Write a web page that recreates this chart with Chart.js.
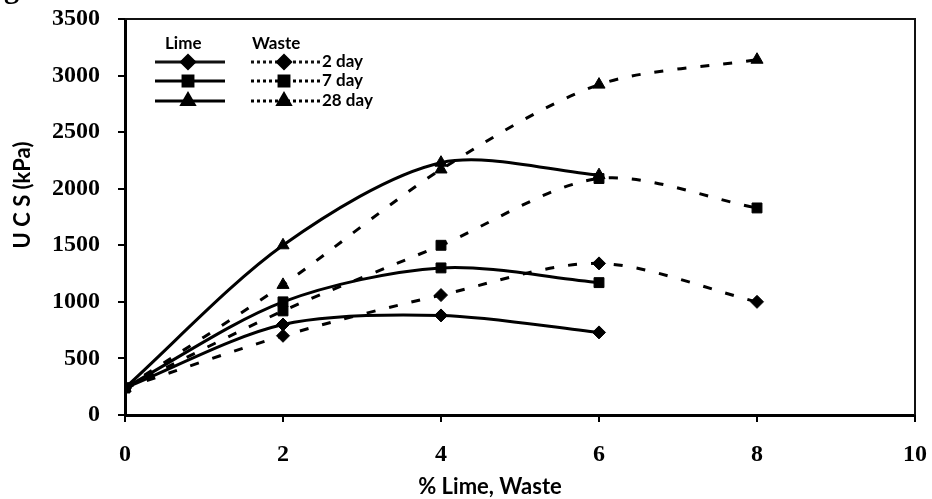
<!DOCTYPE html>
<html>
<head>
<meta charset="utf-8">
<script src="https://cdn.jsdelivr.net/npm/chart.js@4"></script>
<style>
  html, body { margin: 0; padding: 0; background: #fff; }
  #wrap { width: 932px; height: 499px; }
</style>
</head>
<body>
<div id="wrap"><canvas id="ucsChart"></canvas></div>
<script>
// DATA

const limeDose = [0, 2, 4, 6];
const wasteDose = [0, 2, 4, 6, 8];

const lime2Day = [240, 800, 880, 730];
const lime7Day = [240, 1000, 1300, 1170];
const lime28Day = [240, 1500, 2230, 2120];

const waste2Day = [240, 700, 1060, 1340, 1000];
const waste7Day = [240, 920, 1500, 2090, 1830];
const waste28Day = [240, 1150, 2170, 2920, 3140];

const xTicks = [0, 2, 4, 6, 8, 10];
const yTicks = [0, 500, 1000, 1500, 2000, 2500, 3000, 3500];

const ageLabels = ["2 day", "7 day", "28 day"];
const markerStyles = ["rectRot", "rect", "triangle"];
const markerSizes = [6.5, 7, 7];


// HELPERS

function toPoints(xs, ys) {
  return xs.map((x, i) => ({ x: x, y: ys[i] }));
}

function makeSet(label, xs, ys, idx, dashed) {
  return {
    label: label,
    data: toPoints(xs, ys),
    borderColor: "#000",
    backgroundColor: "#000",
    borderWidth: 3,
    borderDash: dashed ? [9, 14] : [],
    tension: 0.3,
    pointStyle: markerStyles[idx],
    pointRadius: markerSizes[idx],
    pointBackgroundColor: "#000",
    pointBorderColor: "#000",
    pointBorderWidth: 1,
    fill: false
  };
}

// keep the plot box where the layout puts it (no label overhang padding)
function fixScale(scale, key, size) {
  scale[key] = size;
  scale.paddingTop = 0;
  scale.paddingBottom = 0;
  scale.paddingLeft = 0;
  scale.paddingRight = 0;
}


// LEGEND + FRAME + AXIS TITLES

const decorPlugin = {
  id: "decor",
  afterDraw(chart) {
    const ctx = chart.ctx;
    const area = chart.chartArea;

    ctx.save();

    // top and right frame
    ctx.strokeStyle = "#111";
    ctx.lineWidth = 2;
    ctx.beginPath();
    ctx.moveTo(area.left, area.top);
    ctx.lineTo(area.right, area.top);
    ctx.lineTo(area.right, area.bottom);
    ctx.stroke();

    // cut-off caption letter at the very top
    ctx.fillStyle = "#000";
    ctx.font = "bold 30px 'Liberation Serif'";
    ctx.textAlign = "left";
    ctx.textBaseline = "alphabetic";
    ctx.fillText("g", 4, -2);

    // axis titles
    ctx.font = "bold 22px Lato";
    ctx.textAlign = "center";
    ctx.textBaseline = "middle";
    ctx.fillText("% Lime, Waste", 490, 487);

    ctx.save();
    ctx.translate(23, 195);
    ctx.rotate(-Math.PI / 2);
    ctx.fillText("U C S (kPa)", 0, 0);
    ctx.restore();

    // legend
    ctx.font = "bold 17px Lato";
    ctx.textAlign = "left";
    ctx.fillText("Lime", 165, 44);
    ctx.fillText("Waste", 252, 44);

    const rowY = [62, 81, 101];

    rowY.forEach((y, i) => {

      ctx.lineWidth = 3;
      ctx.setLineDash([]);
      ctx.beginPath();
      ctx.moveTo(155, y);
      ctx.lineTo(225, y);
      ctx.stroke();

      ctx.setLineDash([3, 3]);
      ctx.beginPath();
      ctx.moveTo(251, y);
      ctx.lineTo(320, y);
      ctx.stroke();
      ctx.setLineDash([]);

      const opts = {
        pointStyle: markerStyles[i],
        radius: markerSizes[i],
        rotation: 0,
        borderWidth: 1
      };
      ctx.fillStyle = "#000";
      ctx.strokeStyle = "#000";
      Chart.helpers.drawPoint(ctx, opts, 188, y);
      Chart.helpers.drawPoint(ctx, opts, 284, y);

      ctx.fillText(ageLabels[i], 322, y);
    });

    ctx.restore();
  }
};


// CHART

const datasets = [
  makeSet("Lime 2 day", limeDose, lime2Day, 0, false),
  makeSet("Lime 7 day", limeDose, lime7Day, 1, false),
  makeSet("Lime 28 day", limeDose, lime28Day, 2, false),
  makeSet("Waste 2 day", wasteDose, waste2Day, 0, true),
  makeSet("Waste 7 day", wasteDose, waste7Day, 1, true),
  makeSet("Waste 28 day", wasteDose, waste28Day, 2, true)
];

const tickFont = {
  family: "'Liberation Serif'",
  size: 24,
  weight: "bold"
};

new Chart(document.getElementById("ucsChart"), {
  type: "line",
  data: { datasets: datasets },
  options: {
    responsive: true,
    maintainAspectRatio: false,
    animation: false,
    layout: {
      padding: { left: 0, top: 19, right: 17, bottom: 0 }
    },
    plugins: {
      legend: { display: false },
      tooltip: { enabled: false }
    },
    scales: {
      x: {
        type: "linear",
        min: 0,
        max: 10,
        afterFit(scale) { fixScale(scale, "height", 84); },
        afterBuildTicks(scale) {
          scale.ticks = xTicks.map(v => ({ value: v }));
        },
        ticks: {
          color: "#000",
          font: tickFont,
          padding: 18,
          callback: v => String(v)
        },
        grid: {
          drawOnChartArea: false,
          drawTicks: true,
          tickLength: 7,
          color: "#000",
          lineWidth: 2
        },
        border: { display: true, color: "#000", width: 3 }
      },
      y: {
        min: 0,
        max: 3500,
        afterFit(scale) { fixScale(scale, "width", 125); },
        afterBuildTicks(scale) {
          scale.ticks = yTicks.map(v => ({ value: v }));
        },
        ticks: {
          color: "#000",
          font: tickFont,
          padding: 18,
          callback: v => String(v)
        },
        grid: {
          drawOnChartArea: false,
          drawTicks: true,
          tickLength: 7,
          color: "#000",
          lineWidth: 2
        },
        border: { display: true, color: "#000", width: 3 }
      }
    }
  },
  plugins: [decorPlugin]
});
</script>
</body>
</html>
